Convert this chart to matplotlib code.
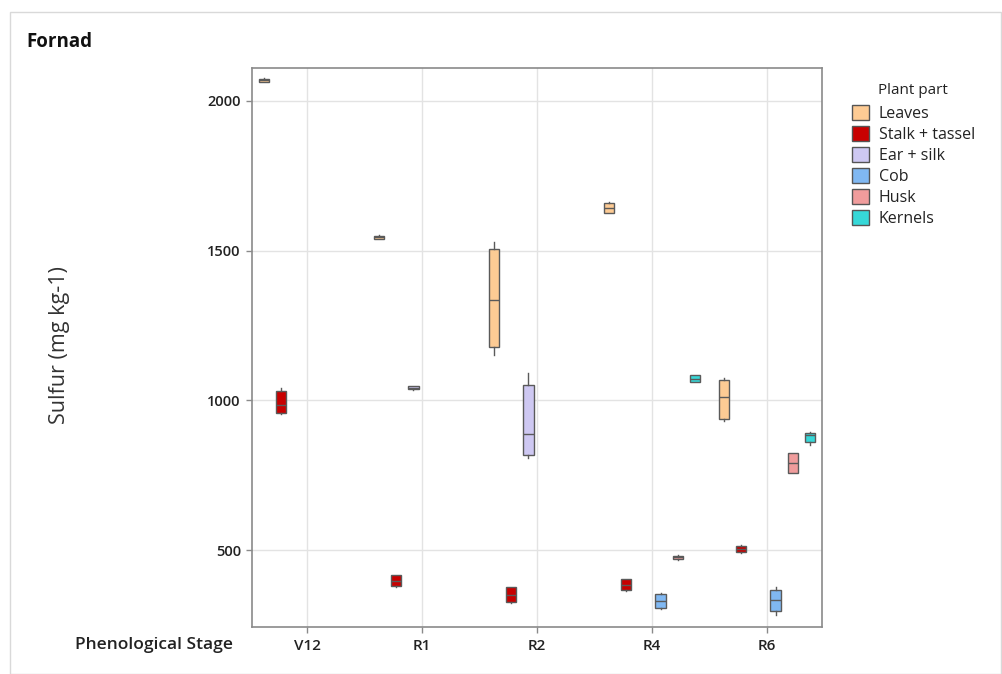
import matplotlib
matplotlib.use("Agg")
import matplotlib.pyplot as plt
from matplotlib.patches import Patch, Rectangle

# ---- data ----
stages = ["V12", "R1", "R2", "R4", "R6"]
parts = ["Leaves", "Stalk + tassel", "Ear + silk", "Cob", "Husk", "Kernels"]
part_colors = ["#FDCB94", "#C80000", "#CEC8F2", "#80B8F2", "#F09C9C", "#36D8D8"]

box_stage = ["V12", "V12", "R1", "R1", "R1", "R2", "R2", "R2",
             "R4", "R4", "R4", "R4", "R4", "R6", "R6", "R6", "R6", "R6"]
box_part = ["Leaves", "Stalk + tassel", "Leaves", "Stalk + tassel", "Ear + silk",
            "Leaves", "Stalk + tassel", "Ear + silk",
            "Leaves", "Stalk + tassel", "Cob", "Husk", "Kernels",
            "Leaves", "Stalk + tassel", "Cob", "Husk", "Kernels"]
whislo = [2063, 955, 1539, 378, 1036, 1152, 324, 808, 1624, 365, 305, 469, 1060, 930, 492, 285, 757, 852]
q1 =     [2063, 958, 1540, 380, 1037, 1177, 326, 818, 1625, 367, 307, 470, 1061, 939, 493, 297, 758, 860]
med =    [2068, 985, 1545, 398, 1042, 1336, 350, 889, 1642, 385, 330, 476, 1073, 1010, 505, 333, 791, 885]
q3 =     [2073, 1030, 1550, 418, 1048, 1505, 376, 1052, 1660, 404, 355, 482, 1085, 1067, 515, 369, 825, 892]
whishi = [2074, 1042, 1551, 419, 1049, 1527, 377, 1093, 1661, 405, 356, 483, 1086, 1075, 516, 377, 826, 893]

yticks = [500, 1000, 1500, 2000]

# ---- figure ----
fig = plt.figure(figsize=(10.02, 6.74), dpi=100)
font = ["Open Sans", "DejaVu Sans"]

# outer frame
fig.add_artist(Rectangle((10 / 1002, 0.0), (1001 - 10) / 1002, 1 - 12 / 674,
                         transform=fig.transFigure, fill=False,
                         edgecolor="#d9d9d9", linewidth=1.0))

ax = fig.add_axes([252 / 1002, 1 - 627 / 674, (822 - 252) / 1002, (627 - 68) / 674])

slot = 0.15
width = 0.092
stats, positions, colors = [], [], []
for s, p, lo, a, m, b, hi in zip(box_stage, box_part, whislo, q1, med, q3, whishi):
    i = stages.index(s)
    j = parts.index(p)
    positions.append(i + (j - 2.5) * slot)
    stats.append(dict(whislo=lo, q1=a, med=m, q3=b, whishi=hi, fliers=[]))
    colors.append(part_colors[j])

edge = "#5a5a5a"
bp = ax.bxp(stats, positions=positions, widths=width, patch_artist=True,
            showcaps=False, showfliers=False,
            boxprops=dict(edgecolor=edge, linewidth=1.0),
            whiskerprops=dict(color=edge, linewidth=1.0),
            medianprops=dict(color=edge, linewidth=1.0))
for patch, c in zip(bp["boxes"], colors):
    patch.set_facecolor(c)

ax.set_xlim(-0.478, 4.478)
ax.set_ylim(244, 2109)
ax.set_xticks(range(len(stages)))
ax.set_xticklabels(stages, fontsize=11, family=font, color="#222222",
                   fontweight="semibold")
ax.set_yticks(yticks)
ax.set_yticklabels([str(v) for v in yticks], fontsize=10.5, family=font,
                   color="#222222", fontweight="semibold")
ax.grid(True, color="#e3e3e3", linewidth=1.0)
ax.set_axisbelow(True)
for sp in ax.spines.values():
    sp.set_color("#8a8a8a")
    sp.set_linewidth(1.2)
ax.tick_params(axis="both", direction="out", length=4, width=1, color="#8a8a8a", pad=4)
ax.tick_params(axis="x", pad=5)

fig.text(60 / 1002, 1 - 345 / 674, "Sulfur (mg kg-1)", fontsize=15.5, family=font,
         color="#333333", rotation=90, va="center", ha="center")

fig.text(26 / 1002, 1 - 42 / 674, "Fornad", fontsize=13.5, fontweight="bold",
         family=font, va="center", ha="left", color="#111111")
fig.text(233 / 1002, 1 - 645 / 674, "Phenological Stage", fontsize=12.5,
         fontweight="semibold", family=font, va="center", ha="right", color="#222222")

# legend
fig.text(878 / 1002, 1 - 90 / 674, "Plant part", fontsize=11, family=font,
         va="center", ha="left", color="#222222")
handles = [Patch(facecolor=c, edgecolor="#555555", linewidth=1.0) for c in part_colors]
leg = fig.legend(handles, parts, loc="upper left", bbox_to_anchor=(846 / 1002, 1 - 99 / 674),
                 frameon=False, prop=dict(family=font, size=11.5),
                 handlelength=1.05, handleheight=1.05, handletextpad=0.6,
                 labelspacing=0.26, borderaxespad=0.0)
for t in leg.get_texts():
    t.set_color("#222222")

fig.savefig("out.png", dpi=100, facecolor="white")
